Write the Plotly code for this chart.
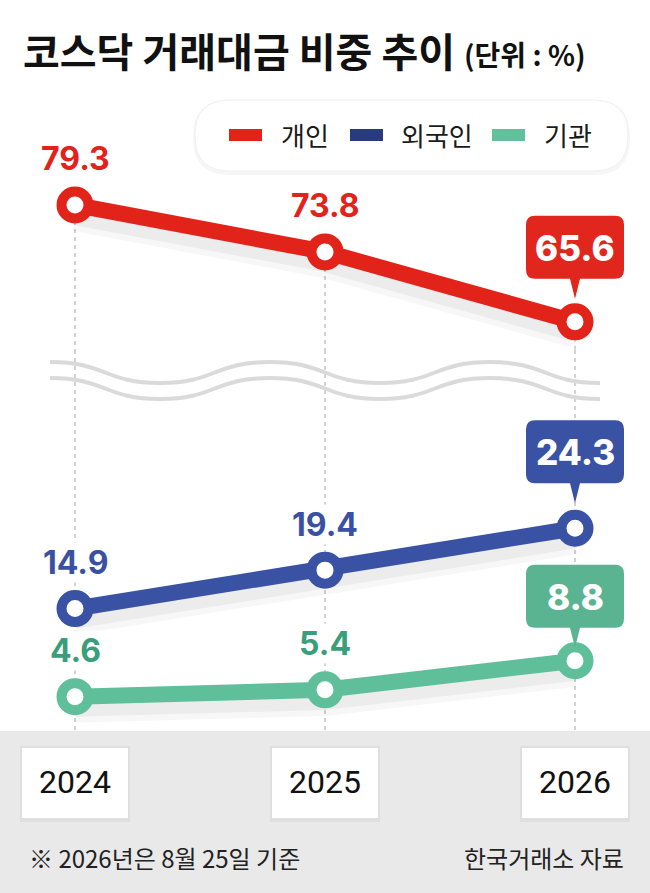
import plotly.graph_objects as go

# data
years = [2024, 2025, 2026]
year_labels = ['2024', '2025', '2026']
series_names = ['개인', '외국인', '기관']
individual = [79.3, 73.8, 65.6]
foreign = [14.9, 19.4, 24.3]
institution = [4.6, 5.4, 8.8]

title_text = '코스닥 거래대금 비중 추이'
unit_text = '(단위 : %)'
note_text = '※ 2026년은 8월 25일 기준'
source_text = '한국거래소 자료'

W, H = 650, 893
RED = '#e2231a'
NAVY = '#3a52a3'
GREEN = '#5fbf9b'
KR = 'Noto Sans CJK KR'
NUM = 'Inter'
YEARFONT = 'Roboto'

X_RANGE = [2023.7, 2026.3]
Y_LOW = [0.7, 39.3]      # lower panel (px 400..730)
Y_UP = [62.3, 83.4]      # upper panel (px 170..350)
SHIFT = 1.3              # shadow offset in value units


def px(x):
    return x / W


def py(y):
    return 1 - y / H


def path_paper(cmds):
    out = []
    for c in cmds:
        if isinstance(c, str):
            out.append(c)
        else:
            out.append('%.5f,%.5f' % (px(c[0]), py(c[1])))
    return ' '.join(out)


def rounded_rect(x0, y0, x1, y1, r):
    return path_paper(['M', (x0 + r, y0), 'L', (x1 - r, y0), 'Q', (x1, y0), (x1, y0 + r),
                       'L', (x1, y1 - r), 'Q', (x1, y1), (x1 - r, y1),
                       'L', (x0 + r, y1), 'Q', (x0, y1), (x0, y1 - r),
                       'L', (x0, y0 + r), 'Q', (x0, y0), (x0 + r, y0), 'Z'])


def wave(x0, y_hi, y_lo, halves, step):
    cmds = ['M', (x0, y_hi)]
    x, y = x0, y_hi
    for k in range(halves):
        ny = y_lo if y == y_hi else y_hi
        cmds += ['C', (x + step / 2, y), (x + step / 2, ny), (x + step, ny)]
        x, y = x + step, ny
    return path_paper(cmds)


def callout(bottom, w=98, h=63, r=9, tip=20):
    hw = w / 2
    top = bottom + h
    pts = [('M', -hw + r, bottom), ('L', -5, bottom), ('L', 0, bottom - tip), ('L', 5, bottom),
           ('L', hw - r, bottom), ('Q', hw, bottom), ('', hw, bottom + r),
           ('L', hw, top - r), ('Q', hw, top), ('', hw - r, top),
           ('L', -hw + r, top), ('Q', -hw, top), ('', -hw, top - r),
           ('L', -hw, bottom + r), ('Q', -hw, bottom), ('', -hw + r, bottom)]
    s = ''
    for c, a, b in pts:
        s += '%s%s %s,%s ' % (' ' if not c else '', c, a, b)
    return s + 'Z'


# name, values, main axis, shadow axis, line color, label color, callout color, callout bottom
series = [
    (series_names[0], individual, 'y4', 'y2', RED, RED, '#e0261d', 43),
    (series_names[1], foreign, 'y3', 'y', NAVY, '#3a50a2', '#3a52a3', 45),
    (series_names[2], institution, 'y3', 'y', GREEN, '#3a9e7a', '#5ab491', 33),
]

fig = go.Figure()

# soft shadows under lines (drawn on the shifted base axes)
for name, vals, ax, sax, col, lcol, ccol, cb in series:
    for wdt, alpha in [(30, 0.03), (18, 0.045)]:
        fig.add_trace(go.Scatter(x=years, y=vals, yaxis=sax, mode='lines',
                                 line=dict(color='rgba(0,0,0,%s)' % alpha, width=wdt),
                                 hoverinfo='skip', showlegend=False))

for name, vals, ax, sax, col, lcol, ccol, cb in series:
    fig.add_trace(go.Scatter(x=years, y=vals, yaxis=ax, name=name, mode='lines+markers',
                             line=dict(color=col, width=16),
                             marker=dict(size=27, color='white', line=dict(color=col, width=10)),
                             hoverinfo='skip', showlegend=False))

shapes = []
annotations = []

# bottom band
shapes.append(dict(type='rect', xref='paper', yref='paper', x0=0, x1=1, y0=0, y1=py(731),
                   fillcolor='#e9e9e9', line=dict(width=0), layer='below'))

# dashed guides
for i, yr in enumerate(years):
    shapes.append(dict(type='line', xref='x', yref='y4', x0=yr, x1=yr, y0=individual[i], y1=Y_UP[0],
                       line=dict(color='#d2d2d2', width=2, dash='4px,4px'), layer='below'))
    shapes.append(dict(type='line', xref='x', yref='paper', x0=yr, x1=yr, y0=py(350), y1=py(731),
                       line=dict(color='#d2d2d2', width=2, dash='4px,4px'), layer='below'))

# axis break waves
shapes.append(dict(type='path', xref='paper', yref='paper', path=wave(50, 362, 383, 5, 110),
                   line=dict(color='#dadada', width=4)))
shapes.append(dict(type='path', xref='paper', yref='paper', path=wave(50, 378, 399, 5, 110),
                   line=dict(color='#dadada', width=4)))

# legend pill
shapes.append(dict(type='path', xref='paper', yref='paper', path=rounded_rect(193, 100, 630, 175, 36),
                   fillcolor='rgba(0,0,0,0.035)', line=dict(width=0)))
shapes.append(dict(type='path', xref='paper', yref='paper', path=rounded_rect(195, 100, 628, 171, 35),
                   fillcolor='white', line=dict(color='#f0f0f0', width=1)))
legend_items = [(229, 279, RED, series_names[0]), (350, 399, '#283b7c', series_names[1]),
                (492, 542, '#62c09c', series_names[2])]
for sx, tx, col, name in legend_items:
    shapes.append(dict(type='rect', xref='paper', yref='paper', x0=px(sx), x1=px(sx + 33),
                       y0=py(141), y1=py(129), fillcolor=col, line=dict(width=0)))
    annotations.append(dict(x=px(tx), y=py(134), xref='paper', yref='paper', text=name,
                            showarrow=False, xanchor='left', yanchor='middle',
                            font=dict(family=KR, size=26, color='#1a1a1a')))

# year boxes
for i, yr in enumerate(years):
    shapes.append(dict(type='rect', xref='x', yref='paper', xsizemode='pixel', xanchor=yr,
                       x0=-55, x1=55, y0=py(822), y1=py(746),
                       fillcolor='rgba(0,0,0,0.04)', line=dict(width=0)))
    shapes.append(dict(type='rect', xref='x', yref='paper', xsizemode='pixel', xanchor=yr,
                       x0=-53, x1=53, y0=py(818), y1=py(748),
                       fillcolor='white', line=dict(width=0)))
    annotations.append(dict(x=yr, y=py(782), xref='x', yref='paper', text=year_labels[i],
                            showarrow=False, xanchor='center', yanchor='middle',
                            font=dict(family=YEARFONT, size=32, color='#111')))

# value labels and callouts
for name, vals, ax, sax, col, lcol, ccol, cb in series:
    for i in range(len(vals) - 1):
        annotations.append(dict(x=years[i], y=vals[i], xref='x', yref=ax, text='%.1f' % vals[i],
                                showarrow=False, yshift=46, bgcolor='white', borderpad=0,
                                font=dict(family=NUM, size=32, color=lcol, weight=700)))
    shapes.append(dict(type='path', xref='x', yref=ax, xsizemode='pixel', ysizemode='pixel',
                       xanchor=years[-1], yanchor=vals[-1], path=callout(cb),
                       fillcolor=ccol, line=dict(width=0)))
    annotations.append(dict(x=years[-1], y=vals[-1], xref='x', yref=ax, text='%.1f' % vals[-1],
                            showarrow=False, yshift=cb + 31,
                            font=dict(family=NUM, size=35, color='white', weight=800)))

# title and notes
annotations.append(dict(x=px(21), y=py(50), xref='paper', yref='paper', text=title_text,
                        showarrow=False, xanchor='left', yanchor='middle',
                        font=dict(family=KR, size=40, color='#111', weight=700)))
annotations.append(dict(x=px(462), y=py(54), xref='paper', yref='paper', text=unit_text,
                        showarrow=False, xanchor='left', yanchor='middle',
                        font=dict(family=KR, size=28, color='#111', weight=700)))
annotations.append(dict(x=px(27), y=py(857), xref='paper', yref='paper', text=note_text,
                        showarrow=False, xanchor='left', yanchor='middle',
                        font=dict(family=KR, size=24, color='#222')))
annotations.append(dict(x=px(626), y=py(857), xref='paper', yref='paper', text=source_text,
                        showarrow=False, xanchor='right', yanchor='middle',
                        font=dict(family=KR, size=24, color='#222')))

fig.update_layout(
    width=W, height=H,
    margin=dict(l=0, r=0, t=0, b=0),
    paper_bgcolor='white', plot_bgcolor='rgba(0,0,0,0)',
    xaxis=dict(domain=[0, 1], range=X_RANGE, visible=False, fixedrange=True),
    yaxis=dict(domain=[py(730), py(400)], range=[Y_LOW[0] + SHIFT, Y_LOW[1] + SHIFT], visible=False),
    yaxis2=dict(domain=[py(350), py(170)], range=[Y_UP[0] + SHIFT, Y_UP[1] + SHIFT], visible=False, anchor='x'),
    yaxis3=dict(range=Y_LOW, overlaying='y', visible=False, anchor='x'),
    yaxis4=dict(range=Y_UP, overlaying='y2', visible=False, anchor='x'),
    shapes=shapes,
    annotations=annotations,
    showlegend=False,
    hovermode=False,
)

# drop the default page margin so the figure sits at the window corner
fig.write_html('out.html', config={'displayModeBar': False},
               post_script="document.body.style.margin='0';")
